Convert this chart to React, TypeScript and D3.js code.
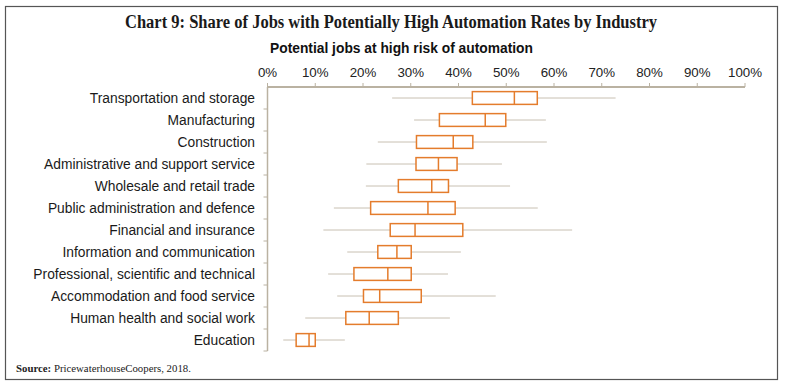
import * as d3 from "d3";

const industries = [
  "Transportation and storage",
  "Manufacturing",
  "Construction",
  "Administrative and support service",
  "Wholesale and retail trade",
  "Public administration and defence",
  "Financial and insurance",
  "Information and communication",
  "Professional, scientific and technical",
  "Accommodation and food service",
  "Human health and social work",
  "Education",
];

// whisker low, Q1, median, Q3, whisker high (in %)
const lows = [26.1, 30.7, 23.1, 20.7, 20.6, 13.9, 11.7, 16.7, 12.7, 14.6, 7.9, 3.3];
const q1s = [42.9, 36.0, 31.2, 31.1, 27.4, 21.6, 25.7, 23.1, 18.1, 20.1, 16.4, 6.0];
const medians = [51.7, 45.6, 38.9, 35.8, 34.4, 33.6, 30.9, 27.1, 25.2, 23.5, 21.3, 8.7];
const q3s = [56.5, 49.9, 43.0, 39.7, 37.9, 39.3, 40.9, 30.1, 30.1, 32.2, 27.4, 10.0];
const highs = [72.9, 58.3, 58.5, 49.1, 50.8, 56.6, 63.8, 40.5, 37.8, 47.8, 38.2, 16.2];

const xTicks = [0, 10, 20, 30, 40, 50, 60, 70, 80, 90, 100];

const W = 785;
const H = 386;
const PLOT = { left: 267.5, right: 745, top: 87, bottom: 351 };
const ORANGE = "#E47C2C";
const WHISKER = "#C8C0B2";
const AXIS = "#BAB2A2";
const SANS = "Arial, 'Liberation Sans', sans-serif";
const SERIF = "'Liberation Serif', 'DejaVu Serif', serif";

export default function App() {
  const x = d3.scaleLinear().domain([0, 100]).range([PLOT.left, PLOT.right]);
  const y = d3.scaleBand<string>().domain(industries).range([PLOT.top, PLOT.bottom]);
  const boxH = y.bandwidth() * 0.58;

  return (
    <svg
      width={W}
      height={H}
      viewBox={`0 0 ${W} ${H}`}
      style={{ position: "absolute", left: 0, top: 0, background: "#fff" }}
    >
      <rect x={5.5} y={6.5} width={772} height={373} fill="#fff" stroke="#555" strokeWidth={1.2} />

      <text
        x={391}
        y={28}
        textAnchor="middle"
        fontFamily={SERIF}
        fontWeight={700}
        fontSize={18.5}
        fill="#1a1a1a"
        textLength={532}
        lengthAdjust="spacingAndGlyphs"
      >
        Chart 9: Share of Jobs with Potentially High Automation Rates by Industry
      </text>

      <text x={401.5} y={53} textAnchor="middle" fontFamily={SANS} fontWeight={700} fontSize={13.8} fill="#111">
        Potential jobs at high risk of automation
      </text>

      {/* top axis */}
      <line x1={PLOT.left} x2={PLOT.right} y1={PLOT.top} y2={PLOT.top} stroke={AXIS} strokeWidth={2} />
      {xTicks.map((t) => (
        <g key={t}>
          <line x1={x(t)} x2={x(t)} y1={PLOT.top} y2={PLOT.top - 4} stroke={AXIS} strokeWidth={1} />
          <text x={x(t)} y={77} textAnchor="middle" fontFamily={SANS} fontSize={13.3} fill="#222">
            {t}%
          </text>
        </g>
      ))}

      {/* left axis */}
      <line x1={PLOT.left} x2={PLOT.left} y1={PLOT.top} y2={PLOT.bottom} stroke={AXIS} strokeWidth={1.5} />
      {industries.map((c) => (
        <line key={`t-${c}`} x1={PLOT.left - 4} x2={PLOT.left} y1={(y(c) ?? 0) + y.bandwidth()} y2={(y(c) ?? 0) + y.bandwidth()} stroke={AXIS} strokeWidth={1} />
      ))}

      {industries.map((c, i) => {
        const cy = (y(c) ?? 0) + y.bandwidth() / 2;
        return (
          <g key={c}>
            <text x={255} y={cy} dy="0.35em" textAnchor="end" fontFamily={SANS} fontSize={13.8} fill="#1a1a1a">
              {c}
            </text>
            <line x1={x(lows[i])} x2={x(q1s[i])} y1={cy} y2={cy} stroke={WHISKER} strokeWidth={1} />
            <line x1={x(q3s[i])} x2={x(highs[i])} y1={cy} y2={cy} stroke={WHISKER} strokeWidth={1} />
            <rect
              x={x(q1s[i])}
              y={cy - boxH / 2}
              width={x(q3s[i]) - x(q1s[i])}
              height={boxH}
              fill="#fff"
              stroke={ORANGE}
              strokeWidth={1.5}
            />
            <line x1={x(medians[i])} x2={x(medians[i])} y1={cy - boxH / 2} y2={cy + boxH / 2} stroke={ORANGE} strokeWidth={1.5} />
          </g>
        );
      })}

      <text x={16} y={372} fontFamily={SERIF} fontSize={10.8} fill="#222">
        <tspan fontWeight={700}>Source:</tspan> PricewaterhouseCoopers, 2018.
      </text>
    </svg>
  );
}
